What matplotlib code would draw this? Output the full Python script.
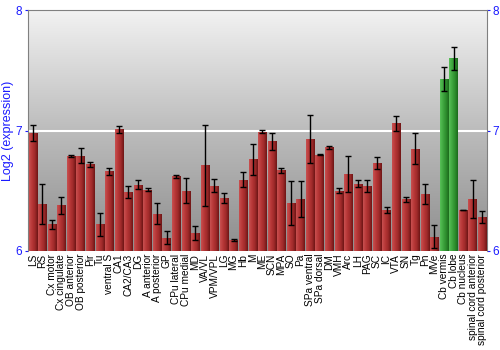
import numpy as np
import matplotlib
matplotlib.use("Agg")
import matplotlib.pyplot as plt
from matplotlib.colors import LinearSegmentedColormap

plt.rcParams["font.family"] = ["Liberation Sans", "DejaVu Sans"]

categories = ["LS", "RS", "Cx motor", "Cx cingulate", "OB anterior", "OB posterior", "Pir", "Tu",
              "ventral S", "CA1", "CA2/CA3", "DG", "A anterior", "A posterior", "GP", "CPu lateral",
              "CPu medial", "MD", "VA/VL", "VPM/VPL", "LG", "MG", "Hb", "M", "ME", "SCN", "MPA",
              "SO", "Pa", "SPa ventral", "SPa dorsal", "DM", "VMH", "Arc", "LH", "PAG", "SC", "IC",
              "VTA", "SN", "Tg", "Pn", "MVe", "Cb vermis", "Cb lobe", "Cb nucleus",
              "spinal cord anterior", "spinal cord posterior"]
values = [6.98, 6.39, 6.22, 6.38, 6.79, 6.79, 6.72, 6.22,
          6.66, 7.01, 6.49, 6.55, 6.51, 6.31, 6.11, 6.62,
          6.50, 6.15, 6.71, 6.54, 6.44, 6.09, 6.59, 6.76, 6.99, 6.91, 6.67,
          6.40, 6.43, 6.93, 6.80, 6.86, 6.50, 6.64, 6.56, 6.54, 6.73, 6.34,
          7.06, 6.43, 6.85, 6.47, 6.12, 7.43, 7.60, 6.34,
          6.43, 6.28]
errors = [0.067, 0.165, 0.038, 0.07, 0.008, 0.063, 0.022, 0.098,
          0.031, 0.029, 0.053, 0.038, 0.01, 0.087, 0.054, 0.014,
          0.105, 0.057, 0.34, 0.054, 0.043, 0.011, 0.063, 0.126, 0.013, 0.069, 0.02,
          0.183, 0.151, 0.203, 0.004, 0.011, 0.022, 0.147, 0.03, 0.051, 0.053, 0.028,
          0.06, 0.02, 0.131, 0.083, 0.097, 0.1, 0.094, 0.004,
          0.157, 0.05]
highlight = ["Cb vermis", "Cb lobe"]
yticks = [6, 7, 8]

fig = plt.figure(figsize=(5, 3.5), dpi=100)
ax = fig.add_axes([0.056, 0.283, 0.918, 0.688])
x = np.arange(len(categories))

# background gradient
bg = LinearSegmentedColormap.from_list("bg", ["#8e8e8e", "#bcbcbc", "#f2f2f2"])
grad = np.linspace(0, 1, 256).reshape(-1, 1)
ax.imshow(grad, cmap=bg, aspect="auto", extent=(-0.5, len(categories) - 0.5, 6, 8),
          origin="lower", zorder=0)
ax.axhline(7, color="white", lw=1.5, zorder=1)

red_cm = LinearSegmentedColormap.from_list("r", ["#c85050", "#b83838", "#a02a2a", "#6e1515"])
green_cm = LinearSegmentedColormap.from_list("g", ["#58c058", "#40a840", "#2e8e2e", "#1c6a1c"])
hgrad = np.linspace(0, 1, 64).reshape(1, -1)

bars = ax.bar(x, np.array(values) - 6, bottom=6, width=0.88, color="#a03030", zorder=2)
for b, cat in zip(bars, categories):
    cm = green_cm if cat in highlight else red_cm
    x0, w = b.get_x(), b.get_width()
    im = ax.imshow(hgrad, cmap=cm, aspect="auto",
                   extent=(x0, x0 + w, 6, b.get_y() + b.get_height()), zorder=3)
    im.set_clip_path(b)

ax.errorbar(x, values, yerr=errors, fmt="none", ecolor="black", elinewidth=1,
            capsize=2.2, capthick=1, zorder=4)
ax.set_xlim(-0.5, len(categories) - 0.5)
ax.set_ylim(6, 8)

blue = "#1a1aff"
ax.set_yticks(yticks)
ax.set_yticklabels([str(t) for t in yticks])
ax.tick_params(axis="y", colors=blue, labelsize=8.5, length=2.5, pad=1.5, right=True,
               labelright=True, labelcolor=blue, direction="out")
ax.set_xticks(x)
ax.set_xticklabels(categories, rotation=90, fontsize=7.3)
ax.tick_params(axis="x", length=0, pad=2)
ax.set_ylabel("Log2 (expression)", color=blue, fontsize=9)
ax.yaxis.set_label_coords(-0.03, 0.5)
for s in ax.spines.values():
    s.set_color("#808080")
ax.spines["bottom"].set_visible(False)

fig.savefig("out.png", dpi=100)
